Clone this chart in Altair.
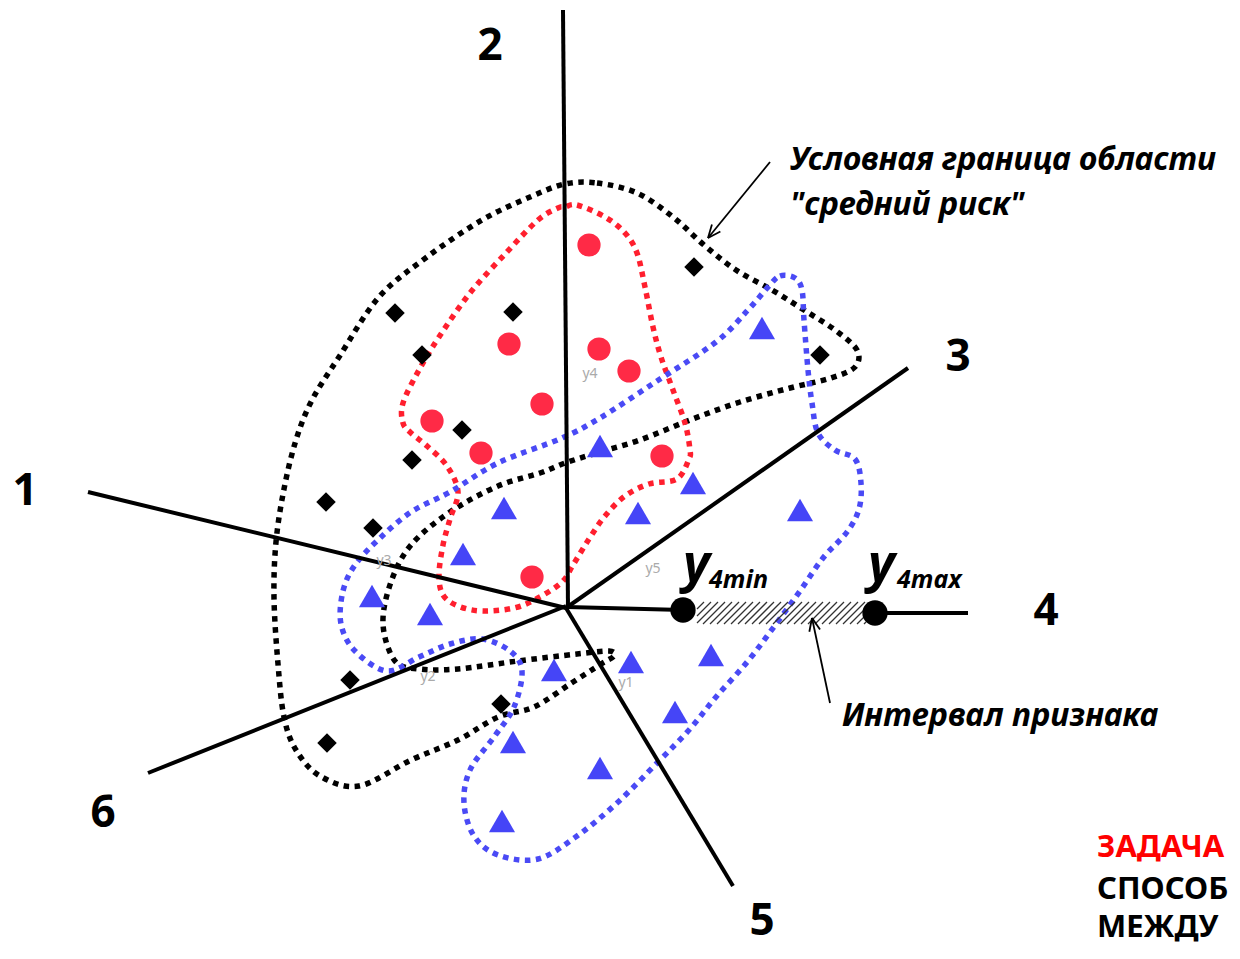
import altair as alt
import pandas as pd
import math

# ---------------- data (pixel-space diagram coordinates) ----------------
axis_x1 = [88, 563, 566, 567, 566, 148, 875]
axis_y1 = [492, 10, 608, 607, 608, 773, 613]
axis_x2 = [566, 568, 908, 683, 733, 566, 968]
axis_y2 = [608, 608, 368, 610, 886, 606, 613]

axis_labels = ["1", "2", "3", "4", "5", "6"]
axis_label_x = [25, 490, 958, 1046, 762, 103]
axis_label_y = [492, 47, 358, 612, 922, 814]

small_labels = ["y4", "y5", "y1", "y2", "y3"]
small_x = [590, 653, 626, 428, 384]
small_y = [374, 569, 683, 677, 561]

diamond_x = [694, 395, 513, 422, 820, 462, 412, 326, 373, 350, 501, 327]
diamond_y = [267, 313, 312, 355, 355, 430, 460, 502, 528, 680, 704, 743]

circle_x = [589, 509, 599, 629, 542, 432, 481, 662, 532]
circle_y = [245, 344, 349, 371, 404, 421, 453, 456, 577]

tri_x = [762, 600, 693, 504, 638, 800, 463, 372, 430, 631, 554, 711, 675, 513, 600, 502]
tri_y = [328, 446, 483, 508, 513, 510, 554, 596, 614, 662, 670, 655, 712, 742, 768, 821]

black_cx = [565, 597, 637, 673, 704, 736, 772, 804, 835, 857, 855, 831, 790, 740, 690, 640,
            600, 565, 540, 498, 450, 411, 391, 383, 395, 419, 458, 518, 577, 609, 614,
            601, 570, 534, 498, 458, 411, 359, 320, 296, 284, 278, 274, 276, 284, 296,
            312, 339, 379, 427, 482, 530]
black_cy = [184, 183, 193, 217, 245, 270, 290, 310, 330, 350, 367, 378, 388, 402, 420, 440,
            452, 463, 473, 486, 512, 545, 582, 624, 661, 669, 669, 661, 654, 651, 656,
            664, 684, 707, 717, 740, 760, 786, 776, 750, 717, 664, 598, 542, 489, 440,
            400, 357, 297, 257, 220, 197]

red_cx = [565, 577, 605, 625, 637, 645, 653, 661, 673, 685, 690, 689, 677, 649, 625, 605,
          589, 573, 562, 538, 514, 482, 458, 443, 439, 443, 450, 458, 447, 427, 411, 403,
          403, 419, 439, 470, 506, 538, 558]
red_cy = [207, 205, 217, 233, 253, 287, 327, 357, 390, 423, 450, 459, 479, 484, 496, 516,
          539, 565, 582, 598, 608, 611, 606, 595, 575, 545, 519, 492, 466, 446, 433, 423,
          403, 370, 337, 293, 253, 220, 208]

blue_cx = [768, 780, 795, 802, 804, 808, 812, 818, 835, 855, 861, 859, 847, 823, 800, 776,
           748, 716, 689, 657, 617, 577, 538, 498, 474, 464, 470, 494, 514, 522, 510, 482,
           450, 419, 387, 355, 341, 343, 355, 379, 411, 450, 498, 562, 600, 657, 716, 748]
blue_cy = [287, 276, 278, 290, 320, 370, 403, 433, 450, 459, 483, 509, 532, 558, 591, 624,
           661, 697, 730, 763, 803, 836, 859, 855, 836, 803, 770, 737, 707, 671, 651, 639,
           644, 657, 671, 651, 624, 591, 565, 539, 512, 492, 463, 438, 418, 381, 342, 310]

interval_x = [683, 875]
interval_y = [610, 613]
hatch_x0, hatch_x1, hatch_top, hatch_bot = 697, 866, 602, 624

arrow_x1 = [770, 830]
arrow_y1 = [162, 703]
arrow_x2 = [708, 812]
arrow_y2 = [238, 618]

annotations = ["Условная граница области", "\"средний риск\"", "Интервал признака"]
ann_x = [790, 790, 842]
ann_y = [160, 205, 716]

task_lines = ["ЗАДАЧА", "СПОСОБ", "МЕЖДУ"]
task_colors = ["#FF0000", "#000000", "#000000"]
task_x = [1097, 1097, 1097]
task_y = [848, 890, 928]

# ---------------- scales ----------------
W, H = 1224, 943
XS = alt.Scale(domain=[8, 8 + W], nice=False, zero=False)
YS = alt.Scale(domain=[8, 8 + H], nice=False, zero=False, reverse=True)


def X(f="x"):
    return alt.X(f"{f}:Q", scale=XS, axis=None)


def Y(f="y"):
    return alt.Y(f"{f}:Q", scale=YS, axis=None)


def X2(f="x2"):
    return alt.X2(f"{f}:Q")


def Y2(f="y2"):
    return alt.Y2(f"{f}:Q")


layers = []


def curve(xs, ys, color):
    df = pd.DataFrame({"x": xs, "y": ys, "i": range(len(xs))})
    return alt.Chart(df).mark_line(
        interpolate="cardinal-closed", stroke=color, strokeWidth=5.5,
        strokeDash=[5.5, 5.5], strokeCap="butt"
    ).encode(x=X(), y=Y(), order="i:Q")


layers.append(curve(black_cx, black_cy, "#000000"))
layers.append(curve(red_cx, red_cy, "#FF1F2E"))
layers.append(curve(blue_cx, blue_cy, "#4A4AF5"))

# axes
ax_df = pd.DataFrame({"x": axis_x1, "y": axis_y1, "x2": axis_x2, "y2": axis_y2})
layers.append(alt.Chart(ax_df).mark_rule(color="black", strokeWidth=4).encode(
    x=X(), y=Y(), x2=X2(), y2=Y2()))

# hatching of the interval
hx, hy, hx2, hy2 = [], [], [], []
d = hatch_bot - hatch_top
x = hatch_x0 - d
while x < hatch_x1:
    xa, ya, xb, yb = x, hatch_bot, x + d, hatch_top
    if xa < hatch_x0:
        t = hatch_x0 - xa
        xa, ya = hatch_x0, hatch_bot - t
    if xb > hatch_x1:
        t = xb - hatch_x1
        xb, yb = hatch_x1, hatch_top + t
    hx.append(xa); hy.append(ya); hx2.append(xb); hy2.append(yb)
    x += 7
hatch_df = pd.DataFrame({"x": hx, "y": hy, "x2": hx2, "y2": hy2})
layers.append(alt.Chart(hatch_df).mark_rule(color="#333333", strokeWidth=1.3).encode(
    x=X(), y=Y(), x2=X2(), y2=Y2()))

# arrows
arr_df = pd.DataFrame({"x": arrow_x1, "y": arrow_y1, "x2": arrow_x2, "y2": arrow_y2})
layers.append(alt.Chart(arr_df).mark_rule(color="black", strokeWidth=1.8).encode(
    x=X(), y=Y(), x2=X2(), y2=Y2()))
ah_x, ah_y, ah_x2, ah_y2 = [], [], [], []
for x1, y1, x2, y2 in zip(arrow_x1, arrow_y1, arrow_x2, arrow_y2):
    ang = math.atan2(y1 - y2, x1 - x2)
    for da in (0.4, -0.4):
        ah_x.append(x2); ah_y.append(y2)
        ah_x2.append(x2 + 14 * math.cos(ang + da)); ah_y2.append(y2 + 14 * math.sin(ang + da))
ah_df = pd.DataFrame({"x": ah_x, "y": ah_y, "x2": ah_x2, "y2": ah_y2})
layers.append(alt.Chart(ah_df).mark_rule(color="black", strokeWidth=1.8).encode(
    x=X(), y=Y(), x2=X2(), y2=Y2()))

# markers
layers.append(alt.Chart(pd.DataFrame({"x": diamond_x, "y": diamond_y})).mark_point(
    shape="diamond", filled=True, color="black", size=380, opacity=1).encode(x=X(), y=Y()))
layers.append(alt.Chart(pd.DataFrame({"x": circle_x, "y": circle_y})).mark_point(
    shape="circle", filled=True, color="#FF2A46", size=540, opacity=1).encode(x=X(), y=Y()))
layers.append(alt.Chart(pd.DataFrame({"x": tri_x, "y": tri_y})).mark_point(
    shape="triangle-up", filled=True, color="#4545F7", size=680, opacity=1).encode(x=X(), y=Y()))
layers.append(alt.Chart(pd.DataFrame({"x": interval_x, "y": interval_y})).mark_point(
    shape="circle", filled=True, color="black", size=640, opacity=1).encode(x=X(), y=Y()))

FONT = "Noto Sans"

# axis number labels
layers.append(alt.Chart(pd.DataFrame({"x": axis_label_x, "y": axis_label_y, "t": axis_labels})).mark_text(
    font=FONT, fontWeight="bold", fontSize=44, align="center", baseline="middle", color="black"
).encode(x=X(), y=Y(), text="t:N"))

# small grey labels
layers.append(alt.Chart(pd.DataFrame({"x": small_x, "y": small_y, "t": small_labels})).mark_text(
    font=FONT, fontSize=14, align="center", baseline="middle", color="#AAAAAA"
).encode(x=X(), y=Y(), text="t:N"))

# y4min / y4max
ybig = pd.DataFrame({"x": [683, 868], "y": [565, 565], "t": ["y", "y"]})
layers.append(alt.Chart(ybig).mark_text(
    font=FONT, fontWeight="bold", fontStyle="italic", fontSize=52, align="left",
    baseline="middle", color="black").encode(x=X(), y=Y(), text="t:N"))
ysub = pd.DataFrame({"x": [709, 897], "y": [580, 580], "t": ["4min", "4max"]})
layers.append(alt.Chart(ysub).mark_text(
    font=FONT, fontWeight="bold", fontStyle="italic", fontSize=25, align="left",
    baseline="middle", color="black").encode(x=X(), y=Y(), text="t:N"))

# annotations
ann = pd.DataFrame({"x": ann_x, "y": ann_y, "t": annotations})
layers.append(alt.Chart(ann).mark_text(
    font=FONT, fontWeight="bold", fontStyle="italic", fontSize=32, align="left",
    baseline="middle", color="black").encode(x=X(), y=Y(), text="t:N"))

# bottom-right task text
task = pd.DataFrame({"x": task_x, "y": task_y, "t": task_lines, "c": task_colors})
layers.append(alt.Chart(task).mark_text(
    font=FONT, fontWeight="bold", fontSize=31, align="left", baseline="middle"
).encode(x=X(), y=Y(), text="t:N", color=alt.Color("c:N", scale=None)))

chart = alt.layer(*layers).properties(
    width=W, height=H, padding=0, autosize=alt.AutoSizeParams(type="none"),
    background="white"
).configure_view(strokeWidth=0)

chart.save("out.html", embed_options={"renderer": "svg", "actions": False})
